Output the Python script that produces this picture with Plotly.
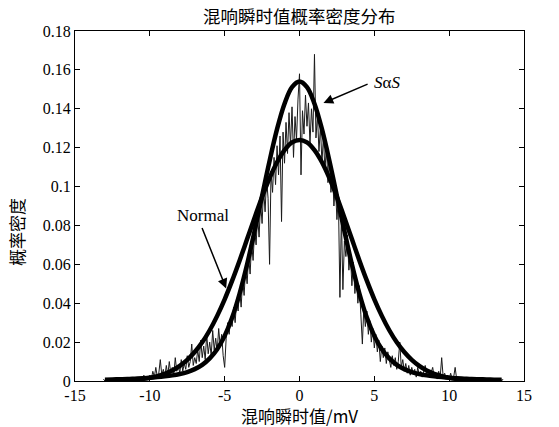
import plotly.graph_objects as go

# ---------------- data ----------------
title_text = "混响瞬时值概率密度分布"
x_title = "混响瞬时值/mV"
y_title = "概率密度"

x_ticks = [-15, -10, -5, 0, 5, 10, 15]
x_tick_labels = ["-15", "-10", "-5", "0", "5", "10", "15"]
y_ticks = [0, 0.02, 0.04, 0.06, 0.08, 0.1, 0.12, 0.14, 0.16, 0.18]
y_tick_labels = ["0", "0.02", "0.04", "0.06", "0.08", "0.1", "0.12", "0.14", "0.16", "0.18"]

# empirical histogram density (bins of 0.1 mV starting at -13.1 mV)
bin_start = -13.1
bin_width = 0.1
emp_density = [
    # -13.1 .. -10.1
    0.001, 0.000, 0.001, 0.000, 0.001, 0.001, 0.000, 0.001, 0.000, 0.001, 0.000,
    0.001, 0.001, 0.000, 0.001, 0.000, 0.001, 0.000, 0.001, 0.001, 0.000, 0.001,
    0.000, 0.001, 0.001, 0.002, 0.000, 0.003, 0.001, 0.002, 0.001,
    # -10.0 .. -7.0
    0.003, 0.001, 0.005, 0.002, 0.007, 0.002, 0.004, 0.011, 0.003, 0.006, 0.002,
    0.008, 0.003, 0.010, 0.004, 0.007, 0.003, 0.012, 0.005, 0.008, 0.004, 0.011,
    0.005, 0.009, 0.006, 0.013, 0.007, 0.010, 0.019, 0.008, 0.012,
    # -6.9 .. -5.0
    0.009, 0.016, 0.010, 0.021, 0.012, 0.018, 0.011, 0.024, 0.014, 0.020,
    0.013, 0.026, 0.016, 0.022, 0.015, 0.027, 0.018, 0.024, 0.013, 0.007,
    # -4.9 .. -3.0
    0.022, 0.030, 0.024, 0.033, 0.028, 0.038, 0.030, 0.041, 0.036, 0.047,
    0.038, 0.052, 0.044, 0.058, 0.050, 0.064, 0.055, 0.071, 0.062, 0.078,
    # -2.9 .. -1.0
    0.070, 0.085, 0.074, 0.092, 0.081, 0.099, 0.087, 0.104, 0.094, 0.060,
    0.108, 0.097, 0.115, 0.101, 0.121, 0.106, 0.126, 0.082, 0.128, 0.112,
    # -0.9 .. 1.0
    0.133, 0.117, 0.138, 0.121, 0.141, 0.115, 0.136, 0.124, 0.145, 0.158,
    0.106, 0.139, 0.127, 0.147, 0.131, 0.143, 0.122, 0.140, 0.128, 0.168,
    # 1.1 .. 3.0
    0.125, 0.137, 0.118, 0.131, 0.112, 0.126, 0.108, 0.121, 0.102, 0.114,
    0.097, 0.109, 0.090, 0.101, 0.083, 0.094, 0.043, 0.085, 0.047, 0.072,
    # 3.1 .. 5.0
    0.064, 0.075, 0.057, 0.066, 0.049, 0.061, 0.045, 0.054, 0.040, 0.049,
    0.034, 0.019, 0.038, 0.028, 0.036, 0.024, 0.031, 0.020, 0.027, 0.017,
    # 5.1 .. 7.0
    0.024, 0.015, 0.021, 0.010, 0.018, 0.012, 0.017, 0.009, 0.015, 0.011,
    0.007, 0.013, 0.008, 0.012, 0.006, 0.010, 0.020, 0.007, 0.011, 0.005,
    # 7.1 .. 10.5
    0.009, 0.004, 0.008, 0.003, 0.007, 0.004, 0.006, 0.002, 0.007, 0.003,
    0.005, 0.002, 0.006, 0.008, 0.003, 0.006, 0.002, 0.005, 0.007, 0.002,
    0.004, 0.001, 0.005, 0.002, 0.012, 0.002, 0.004, 0.001, 0.003, 0.001,
    0.004, 0.001, 0.002, 0.007, 0.001,
    # 10.6 .. 13.6
    0.002, 0.000, 0.001, 0.000, 0.002, 0.000, 0.001, 0.001, 0.000, 0.001, 0.000,
    0.001, 0.000, 0.001, 0.001, 0.000, 0.001, 0.000, 0.001, 0.000, 0.001, 0.001,
    0.000, 0.001, 0.000, 0.001, 0.000, 0.001, 0.001, 0.000, 0.001,
]

# fitted curves, sampled every 0.5 mV
curve_x = [-13, -12.5, -12, -11.5, -11, -10.5, -10, -9.5, -9, -8.5, -8, -7.5, -7,
           -6.5, -6, -5.5, -5, -4.5, -4, -3.5, -3, -2.5, -2, -1.5, -1, -0.5, 0,
           0.5, 1, 1.5, 2, 2.5, 3, 3.5, 4, 4.5, 5, 5.5, 6, 6.5, 7, 7.5, 8, 8.5,
           9, 9.5, 10, 10.5, 11, 11.5, 12, 12.5, 13, 13.5]
normal_pdf = [0.0001, 0.0001, 0.0002, 0.0004, 0.0007, 0.0011, 0.0016, 0.0025, 0.0037,
              0.0054, 0.0078, 0.0109, 0.0149, 0.0199, 0.0261, 0.0335, 0.0420, 0.0516,
              0.0620, 0.0730, 0.0840, 0.0946, 0.1043, 0.1125, 0.1187, 0.1227, 0.1240,
              0.1227, 0.1187, 0.1125, 0.1043, 0.0946, 0.0840, 0.0730, 0.0620, 0.0516,
              0.0420, 0.0335, 0.0261, 0.0199, 0.0149, 0.0109, 0.0078, 0.0054, 0.0037,
              0.0025, 0.0016, 0.0011, 0.0007, 0.0004, 0.0002, 0.0001, 0.0001, 0.0001]
sas_pdf = [0.0007, 0.0008, 0.0009, 0.0010, 0.0012, 0.0014, 0.0017, 0.0020, 0.0024,
           0.0029, 0.0036, 0.0046, 0.0061, 0.0083, 0.0116, 0.0163, 0.0232, 0.0326,
           0.0450, 0.0600, 0.0771, 0.0952, 0.1132, 0.1295, 0.1426, 0.1511, 0.1540,
           0.1511, 0.1426, 0.1295, 0.1132, 0.0952, 0.0771, 0.0600, 0.0450, 0.0326,
           0.0232, 0.0163, 0.0116, 0.0083, 0.0061, 0.0046, 0.0036, 0.0029, 0.0024,
           0.0020, 0.0017, 0.0014, 0.0012, 0.0010, 0.0009, 0.0008, 0.0007, 0.0006]

# ---------------- figure ----------------
emp_x = [round(bin_start + i * bin_width, 2) for i in range(len(emp_density))]

SERIF = "Liberation Serif, DejaVu Serif, serif"
CJK = "Noto Sans CJK SC"

fig = go.Figure()
fig.add_trace(go.Scatter(x=emp_x, y=emp_density, mode="lines",
                         line=dict(color="#1a1a1a", width=1), showlegend=False))
fig.add_trace(go.Scatter(x=curve_x, y=normal_pdf, mode="lines",
                         line=dict(color="black", width=4.5, shape="spline"),
                         showlegend=False))
fig.add_trace(go.Scatter(x=curve_x, y=sas_pdf, mode="lines",
                         line=dict(color="black", width=4.5, shape="spline"),
                         showlegend=False))

axis_common = dict(showgrid=False, zeroline=False, showline=True, linecolor="black",
                   linewidth=1, mirror="ticks", ticks="inside", ticklen=5,
                   tickcolor="black", tickfont=dict(family=SERIF, size=16, color="black"))

fig.update_xaxes(range=[-15, 15], tickvals=x_ticks, ticktext=x_tick_labels, **axis_common)
fig.update_yaxes(range=[0, 0.18], tickvals=y_ticks, ticktext=y_tick_labels, **axis_common)

annotations = [
    dict(text=title_text, xref="paper", yref="paper", x=0.5, y=1.0, yshift=16,
         showarrow=False, xanchor="center", yanchor="middle",
         font=dict(family=CJK, size=17.5, color="black")),
    dict(text=x_title, xref="paper", yref="paper", x=0.5, y=0, yshift=-34,
         showarrow=False, xanchor="center", yanchor="middle",
         font=dict(family=CJK, size=17, color="black")),
    dict(text=y_title, xref="paper", yref="paper", x=0, xshift=-59, y=0.5, yshift=-26,
         showarrow=False, textangle=-90, xanchor="center", yanchor="middle",
         font=dict(family=CJK, size=17, color="black")),
    dict(text="Normal", x=-6.45, y=0.0852, xref="x", yref="y", showarrow=False,
         font=dict(family=SERIF, size=17, color="black")),
    dict(text="", x=-4.9, y=0.0476, ax=-6.55, ay=0.0795, xref="x", yref="y",
         axref="x", ayref="y", showarrow=True, arrowhead=2, arrowsize=1.3,
         arrowwidth=1.5, arrowcolor="black"),
    dict(text="<i>S</i>α<i>S</i>", x=5.85, y=0.1537, xref="x", yref="y",
         showarrow=False, font=dict(family=SERIF, size=17, color="black")),
    dict(text="", x=1.6, y=0.1430, ax=4.65, ay=0.1530, xref="x", yref="y",
         axref="x", ayref="y", showarrow=True, arrowhead=2, arrowsize=1.3,
         arrowwidth=1.5, arrowcolor="black"),
]

fig.update_layout(width=559, height=427, margin=dict(l=75, r=35, t=31, b=46),
                  paper_bgcolor="white", plot_bgcolor="white",
                  annotations=annotations, showlegend=False)

# remove the browser's default 8 px body margin so the figure fills the window
fig.write_html("out.html", config={"displayModeBar": False},
               post_script="document.body.style.margin='0';document.body.style.overflow='hidden';")
